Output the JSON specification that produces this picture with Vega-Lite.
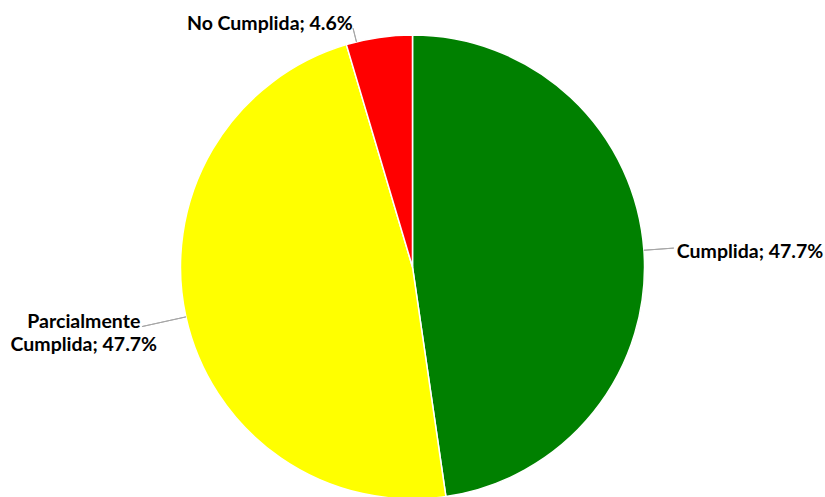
{
  "$schema": "https://vega.github.io/schema/vega-lite/v6.json",
  "autosize": {"type": "none"},
  "width": 825,
  "height": 460,
  "padding": {"top": 37, "left": 0, "right": 0, "bottom": 0},
  "background": "white",
  "config": {"view": {"stroke": null}},
  "data": {
    "values": [
      {"cat": "Cumplida", "v": 47.7, "ord": 1, "label": "Cumplida; 47.7%"},
      {"cat": "Parcialmente Cumplida", "v": 47.7, "ord": 2, "label": "Parcialmente\nCumplida; 47.7%"},
      {"cat": "No Cumplida", "v": 4.6, "ord": 3, "label": "No Cumplida; 4.6%"}
    ]
  },
  "encoding": {
    "theta": {"field": "v", "type": "quantitative", "stack": true},
    "order": {"field": "ord", "type": "quantitative"}
  },
  "layer": [
    {
      "mark": {"type": "arc", "outerRadius": 232, "stroke": "white", "strokeWidth": 1.5},
      "encoding": {
        "color": {
          "field": "cat",
          "type": "nominal",
          "scale": {"domain": ["Cumplida", "Parcialmente Cumplida", "No Cumplida"], "range": ["#008000", "#FFFF00", "#FF0000"]},
          "legend": null
        }
      }
    },
    {
      "mark": {"type": "arc", "radius": 262, "radius2": 232, "padAngle": 3.2, "fillOpacity": 0, "stroke": "#a6a6a6", "strokeWidth": 1},
      "encoding": {
        "strokeOpacity": {"condition": {"test": "datum.cat == 'Cumplida'", "value": 1}, "value": 0}
      }
    },
    {
      "mark": {"type": "arc", "radius": 277, "radius2": 232, "padAngle": 3.2, "fillOpacity": 0, "stroke": "#a6a6a6", "strokeWidth": 1},
      "encoding": {
        "strokeOpacity": {"condition": {"test": "datum.cat == 'Parcialmente Cumplida'", "value": 1}, "value": 0}
      }
    },
    {
      "mark": {"type": "arc", "radius": 246, "radius2": 232, "padAngle": 3.2, "thetaOffset": -0.0995, "fillOpacity": 0, "stroke": "#a6a6a6", "strokeWidth": 1},
      "encoding": {
        "strokeOpacity": {"condition": {"test": "datum.cat == 'No Cumplida'", "value": 1}, "value": 0}
      }
    },
    {
      "mark": {"type": "text", "radius": 265, "align": "left", "baseline": "middle", "dy": 4, "font": "Lato", "fontWeight": "bold", "fontSize": 19.5, "color": "#000000"},
      "encoding": {
        "text": {"condition": {"test": "datum.cat == 'Cumplida'", "field": "label"}, "value": ""}
      }
    },
    {
      "mark": {"type": "text", "radius": 270, "align": "center", "baseline": "middle", "dx": -65, "dy": -3, "lineBreak": "\n", "lineHeight": 23, "font": "Lato", "fontWeight": "bold", "fontSize": 19.5, "color": "#000000"},
      "encoding": {
        "text": {"condition": {"test": "datum.cat == 'Parcialmente Cumplida'", "field": "label"}, "value": ""}
      }
    },
    {
      "mark": {"type": "text", "radius": 248, "align": "right", "baseline": "middle", "dx": -24, "dy": 2, "font": "Lato", "fontWeight": "bold", "fontSize": 19.5, "color": "#000000"},
      "encoding": {
        "text": {"condition": {"test": "datum.cat == 'No Cumplida'", "field": "label"}, "value": ""}
      }
    }
  ]
}
